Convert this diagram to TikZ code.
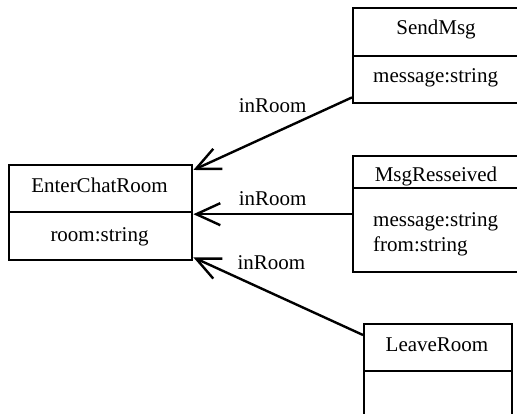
\documentclass[tikz,border=0pt]{standalone}
\usepackage{fontspec}
\setmainfont{Liberation Serif}
\usetikzlibrary{arrows.meta,calc}
\begin{document}
\begin{tikzpicture}[x=1pt,y=-1pt,
  box/.style={draw,line width=2.4pt,inner sep=0pt,anchor=north west},
  lbl/.style={font=\fontsize{21}{25}\selectfont,inner sep=0pt},
  rule/.style={line width=2.4pt},
  conn/.style={line width=2.4pt,-{Straight Barb[length=24pt,width=22pt,line width=2.4pt]}}]
\clip (0,0) rectangle (517,414);
\fill[white] (0,0) rectangle (517,414);
% EnterChatRoom
\node[box,minimum width=183pt,minimum height=95pt] (ecr) at (8,164) {};
\draw[rule] (ecr.west |- 0,212) -- (ecr.east |- 0,212);
\node[lbl,anchor=base] (ecrn) at (99.5,192.5) {EnterChatRoom};
\node[lbl,anchor=base] (ecra) at (99.5,241.5) {room:string};
% SendMsg
\node[box,minimum width=168pt,minimum height=95pt] (send) at (352,7) {};
\draw[rule] (send.west |- 0,56) -- (send.east |- 0,56);
\node[lbl,anchor=base] (sendn) at (436,35) {SendMsg};
\node[lbl,anchor=base west] (senda) at (373,83) {message:string};
% MsgResseived
\node[box,minimum width=168pt,minimum height=116pt] (msg) at (352,155) {};
\draw[rule] (msg.west |- 0,188) -- (msg.east |- 0,188);
\node[lbl,anchor=base] (msgn) at (436,181.5) {MsgResseived};
\node[lbl,anchor=base west] (msga) at (373,227) {message:string};
\node[lbl,anchor=base west] (msgb) at (373,252) {from:string};
% LeaveRoom
\node[box,minimum width=148pt,minimum height=100pt] (leave) at (363,323) {};
\draw[rule] (leave.west |- 0,371) -- (leave.east |- 0,371);
\node[lbl,anchor=base] (leaven) at (437,351.5) {LeaveRoom};
% connectors
\draw[conn] ($(send.south west)+(0,-7)$) -- ($(ecr.north east)+(0,6)$)
  node[lbl,pos=.5,above=20pt] (l1) {inRoom};
\draw[conn] (msg.west) -- (ecr.east |- msg.west)
  node[lbl,pos=.5,above=7pt] (l2) {inRoom};
\draw[conn] ($(leave.north west)+(0,12)$) -- ($(ecr.south east)+(0,-4)$)
  node[lbl,pos=.54,above=22pt] (l3) {inRoom};
\end{tikzpicture}
\end{document}
